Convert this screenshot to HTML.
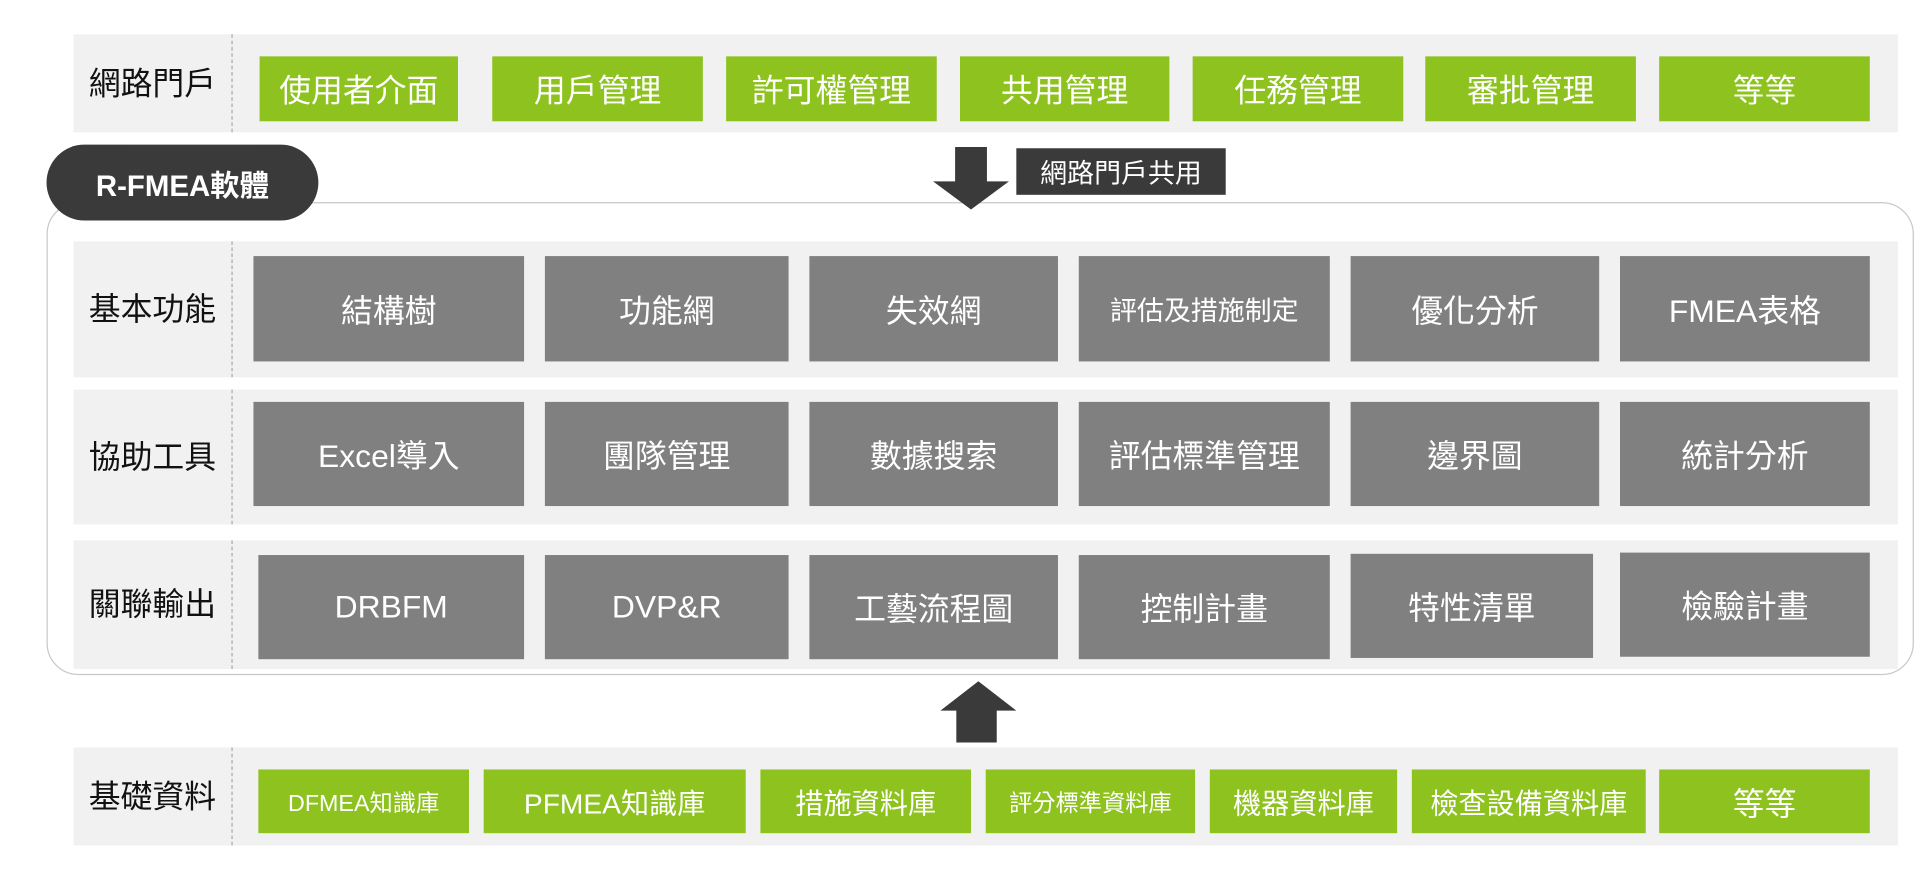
<!DOCTYPE html>
<html><head><meta charset="utf-8"><style>
html,body{margin:0;padding:0;background:#fff;width:1920px;height:892px;overflow:hidden}
#c{position:absolute;left:0;top:0;width:1568px;height:728px;transform:scale(1.22449,1.22527);transform-origin:0 0;font-family:"Liberation Sans","Noto Sans CJK TC",sans-serif}
.a{position:absolute;box-sizing:border-box}
.bg{background:#f1f1f1}
.lab{position:absolute;width:130px;text-align:center;font-size:26px;color:#111;border-right:1px dashed #aaa;box-sizing:border-box}
.b{position:absolute;display:flex;align-items:center;justify-content:center;color:#fff;font-size:26px;white-space:nowrap}
.g{background:#8dc21f}
.k{background:#808080}
</style></head><body><div id="c">
<!-- row1 -->
<div class="a bg" style="left:60px;top:28px;width:1490px;height:80px"></div>
<div class="lab" style="left:60px;top:28px;height:80px;line-height:80px">網路門戶</div>
<div class="b g" style="left:212px;top:46px;width:162px;height:53px">使用者介面</div>
<div class="b g" style="left:402px;top:46px;width:172px;height:53px">用戶管理</div>
<div class="b g" style="left:593px;top:46px;width:172px;height:53px">許可權管理</div>
<div class="b g" style="left:784px;top:46px;width:171px;height:53px">共用管理</div>
<div class="b g" style="left:974px;top:46px;width:172px;height:53px">任務管理</div>
<div class="b g" style="left:1164px;top:46px;width:172px;height:53px">審批管理</div>
<div class="b g" style="left:1355px;top:46px;width:172px;height:53px">等等</div>
<!-- big box -->
<div class="a" style="left:38px;top:165px;width:1525px;height:386px;border:1px solid #c8c8c8;border-radius:26px"></div>
<div class="b" style="left:38px;top:118px;width:222px;height:62px;background:#3a3a3a;border-radius:31px;font-size:24px;font-weight:bold">R-FMEA軟體</div>
<!-- down arrow -->
<svg class="a" style="left:760px;top:118px" width="66" height="54"><polygon points="20,2 46,2 46,30 64,30 33,53 2,30 20,30" fill="#3a3a3a"/></svg>
<div class="b" style="left:830px;top:121px;width:171px;height:38px;background:#3a3a3a;font-size:22px">網路門戶共用</div>
<!-- row2 -->
<div class="a bg" style="left:60px;top:197px;width:1490px;height:111px"></div>
<div class="lab" style="left:60px;top:197px;height:111px;line-height:111px">基本功能</div>
<div class="b k" style="left:207px;top:209px;width:221px;height:86px">結構樹</div>
<div class="b k" style="left:445px;top:209px;width:199px;height:86px">功能網</div>
<div class="b k" style="left:661px;top:209px;width:203px;height:86px">失效網</div>
<div class="b k" style="left:881px;top:209px;width:205px;height:86px;font-size:22px">評估及措施制定</div>
<div class="b k" style="left:1103px;top:209px;width:203px;height:86px">優化分析</div>
<div class="b k" style="left:1323px;top:209px;width:204px;height:86px">FMEA表格</div>
<!-- row3 -->
<div class="a bg" style="left:60px;top:318px;width:1490px;height:110px"></div>
<div class="lab" style="left:60px;top:318px;height:110px;line-height:110px">協助工具</div>
<div class="b k" style="left:207px;top:328px;width:221px;height:85px">Excel導入</div>
<div class="b k" style="left:445px;top:328px;width:199px;height:85px">團隊管理</div>
<div class="b k" style="left:661px;top:328px;width:203px;height:85px">數據搜索</div>
<div class="b k" style="left:881px;top:328px;width:205px;height:85px">評估標準管理</div>
<div class="b k" style="left:1103px;top:328px;width:203px;height:85px">邊界圖</div>
<div class="b k" style="left:1323px;top:328px;width:204px;height:85px">統計分析</div>
<!-- row4 -->
<div class="a bg" style="left:60px;top:441px;width:1490px;height:105px"></div>
<div class="lab" style="left:60px;top:441px;height:105px;line-height:105px">關聯輸出</div>
<div class="b k" style="left:211px;top:453px;width:217px;height:85px">DRBFM</div>
<div class="b k" style="left:445px;top:453px;width:199px;height:85px">DVP&amp;R</div>
<div class="b k" style="left:661px;top:453px;width:203px;height:85px">工藝流程圖</div>
<div class="b k" style="left:881px;top:453px;width:205px;height:85px">控制計畫</div>
<div class="b k" style="left:1103px;top:452px;width:198px;height:85px">特性清單</div>
<div class="b k" style="left:1323px;top:451px;width:204px;height:85px">檢驗計畫</div>
<!-- up arrow -->
<svg class="a" style="left:766px;top:555px" width="66" height="52"><polygon points="33,1 64,25 48,25 48,51 15,51 15,25 2,25" fill="#3a3a3a"/></svg>
<!-- row5 -->
<div class="a bg" style="left:60px;top:610px;width:1490px;height:80px"></div>
<div class="lab" style="left:60px;top:610px;height:80px;line-height:80px">基礎資料</div>
<div class="b g" style="left:211px;top:628px;width:172px;height:52px;font-size:19px">DFMEA知識庫</div>
<div class="b g" style="left:395px;top:628px;width:214px;height:52px;font-size:23px">PFMEA知識庫</div>
<div class="b g" style="left:621px;top:628px;width:172px;height:52px;font-size:23px">措施資料庫</div>
<div class="b g" style="left:805px;top:628px;width:171px;height:52px;font-size:19px">評分標準資料庫</div>
<div class="b g" style="left:988px;top:628px;width:153px;height:52px;font-size:23px">機器資料庫</div>
<div class="b g" style="left:1153px;top:628px;width:191px;height:52px;font-size:23px">檢查設備資料庫</div>
<div class="b g" style="left:1355px;top:628px;width:172px;height:52px">等等</div>
</div></body></html>
